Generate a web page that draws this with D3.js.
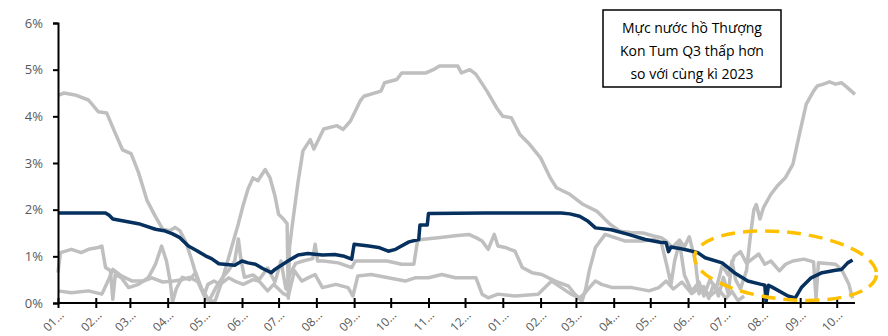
<!DOCTYPE html>
<html>
<head>
<meta charset="utf-8">
<script src="https://cdn.jsdelivr.net/npm/d3@7"></script>
<style>
  html, body { margin: 0; padding: 0; background: #fff; }
  svg { display: block; }
</style>
</head>
<body>
<svg id="chart" width="888" height="336"></svg>
<script>
// Daily series, stored as [days since 2023-01-01, percent]
const startDate = new Date(2023, 0, 1);
const endDay = 654;

const seriesNavy = [
  [0,1.93],[39,1.93],[42,1.88],[45,1.80],[55,1.75],[66,1.70],[80,1.58],[87,1.55],[94,1.48],[100,1.40],
  [107,1.22],[114,1.12],[121,1.01],[126,0.95],[132,0.84],[145,0.81],[151,0.90],[156,0.86],[162,0.83],[168,0.74],
  [175,0.65],[178,0.72],[181,0.77],[190,0.92],[197,1.03],[205,1.06],[217,1.03],[227,1.04],[235,1.00],[241,0.94],
  [243,1.26],[255,1.22],[263,1.19],[271,1.11],[277,1.15],[288,1.31],[296,1.36],[297,1.67],[303,1.67],[304,1.92],
  [350,1.93],[413,1.93],[420,1.91],[428,1.86],[435,1.75],[441,1.61],[454,1.57],[468,1.47],[482,1.36],[494,1.30],
  [499,1.29],[501,1.10],[503,1.20],[510,1.17],[517,1.13],[525,1.08],[531,0.97],[545,0.86],[555,0.65],[566,0.47],
  [577,0.40],[580,0.38],[581,0.02],[583,0.38],[586,0.34],[599,0.15],[605,0.11],[610,0.33],[618,0.54],[627,0.65],
  [638,0.70],[643,0.72],[648,0.86],[652,0.92]
];

const seriesGrayA = [
  [0,4.45],[5,4.50],[15,4.45],[25,4.35],[33,4.10],[40,4.07],[46,3.70],[53,3.28],[60,3.20],[66,2.80],
  [73,2.20],[80,1.85],[86,1.58],[92,1.55],[96,1.62],[100,1.55],[105,1.30],[110,0.90],[115,0.45],[120,0.15],
  [124,0.03],[129,0.05],[133,0.35],[137,0.70],[142,1.15],[148,1.70],[152,2.10],[156,2.45],[160,2.68],[164,2.62],
  [170,2.86],[174,2.68],[178,2.30],[181,1.90],[185,1.80],[188,1.70],[189,0.10],[190,1.20],[192,1.62],[197,2.60],
  [201,3.26],[207,3.50],[210,3.30],[218,3.73],[229,3.80],[234,3.72],[240,3.90],[248,4.33],[251,4.43],[265,4.54],
  [268,4.72],[278,4.79],[282,4.93],[302,4.93],[308,5.00],[313,5.08],[328,5.08],[331,4.93],[338,5.00],[343,4.90],
  [352,4.54],[360,4.18],[365,4.00],[372,3.97],[379,3.61],[387,3.40],[396,3.11],[404,2.68],[409,2.47],[420,2.33],
  [431,2.11],[442,1.97],[453,1.69],[461,1.54],[470,1.51],[480,1.50],[488,1.44],[495,1.40],[499,1.33],[504,1.19],
  [510,1.35],[514,1.20],[518,1.42],[523,0.90],[526,0.20],[530,0.35],[534,0.10],[538,0.40],[542,0.15],[546,0.55],
  [550,0.20],[553,0.90],[556,0.50],[560,0.30],[565,0.70],[568,1.40],[571,2.00],[573,2.11],[576,1.80],[579,2.05],
  [585,2.33],[590,2.50],[597,2.69],[603,2.97],[609,3.69],[614,4.26],[620,4.54],[623,4.65],[628,4.69],[633,4.74],
  [638,4.69],[643,4.72],[648,4.61],[654,4.47]
];

const seriesGrayB = [
  [0,0.65],[2,1.08],[11,1.15],[19,1.08],[25,1.15],[33,1.19],[36,1.22],[39,0.76],[43,0.69],[45,0.08],
  [47,0.61],[52,0.54],[58,0.33],[66,0.40],[74,0.54],[80,0.83],[85,1.22],[89,0.90],[92,0.47],[94,0.02],
  [97,0.30],[102,0.55],[108,0.50],[113,0.65],[118,0.30],[124,0.05],[130,0.35],[135,0.55],[140,0.70],[145,0.90],
  [148,1.37],[150,0.95],[153,0.55],[160,0.60],[165,0.50],[172,0.75],[178,0.45],[183,0.90],[187,0.30],[190,0.60],
  [195,0.85],[201,0.90],[209,0.95],[211,1.26],[213,0.90],[218,0.90],[230,0.86],[241,0.76],[244,0.90],[257,0.90],
  [270,0.90],[282,0.83],[292,0.83],[295,1.33],[298,1.36],[312,1.40],[326,1.44],[337,1.47],[343,1.40],[348,1.33],
  [353,1.15],[358,1.47],[361,1.22],[367,1.19],[375,1.11],[381,0.76],[389,0.65],[397,0.61],[408,0.47],[419,0.36],
  [424,0.19],[430,0.04],[433,0.30],[436,0.70],[441,1.19],[449,1.47],[457,1.40],[465,1.33],[479,1.33],[490,1.36],
  [495,1.30],[500,0.76],[503,0.40],[506,0.90],[510,1.30],[514,0.60],[520,0.25],[526,0.45],[530,0.15],[535,0.50],
  [540,0.30],[545,0.80],[550,0.60],[555,1.00],[560,1.10],[565,0.85],[570,0.95],[575,1.05],[580,0.83],[585,0.90],
  [592,0.69],[597,0.83],[603,0.90],[612,0.94],[620,0.88],[622,0.10],[624,0.86],[638,0.83],[643,0.72],[649,0.40],
  [652,0.10]
];

const seriesGrayC = [
  [0,0.26],[11,0.22],[25,0.26],[36,0.19],[41,0.47],[45,0.72],[52,0.58],[61,0.47],[70,0.47],[77,0.54],
  [86,0.45],[95,0.47],[102,0.50],[108,0.55],[115,0.45],[120,0.18],[123,0.40],[128,0.47],[133,0.40],[140,0.54],
  [145,0.47],[152,0.40],[160,0.50],[165,0.47],[172,0.26],[177,0.40],[185,0.20],[189,0.15],[194,0.69],[200,0.47],
  [206,0.55],[211,0.61],[217,0.33],[228,0.40],[238,0.33],[242,0.15],[246,0.58],[257,0.61],[271,0.54],[285,0.47],
  [293,0.54],[304,0.54],[315,0.61],[326,0.54],[343,0.54],[348,0.19],[353,0.11],[361,0.19],[375,0.15],[394,0.19],
  [405,0.47],[413,0.33],[421,0.19],[428,0.11],[432,0.20],[436,0.33],[441,0.47],[446,0.40],[455,0.33],[471,0.33],
  [485,0.26],[493,0.33],[499,0.47],[505,0.30],[512,0.45],[520,0.20],[528,0.35],[535,0.15],[542,0.30],[548,0.10],
  [553,0.25],[558,0.05],[563,0.15]
];

const yTicks = [0, 1, 2, 3, 4, 5, 6];
const xTickLabels = ["01…","02…","03…","04…","05…","06…","07…","08…","09…","10…","11…","12…",
                     "01…","02…","03…","04…","05…","06…","07…","08…","09…","10…"];
const noteLines = ["Mực nước hồ Thượng", "Kon Tum Q3 thấp hơn", "so với cùng kì 2023"];
// Highlighted window: centre day/value and half-extents
const highlight = { day: 597, value: 0.80, halfDays: 75, halfValue: 0.72, tilt: 6 };

const svg = d3.select("#chart");
const dayToDate = d => d3.timeDay.offset(startDate, d);

const x = d3.scaleTime()
  .domain([startDate, dayToDate(endDay)])
  .range([58, 855]);
const y = d3.scaleLinear().domain([0, 6]).range([303, 23]);

const line = d3.line()
  .x(d => x(dayToDate(d[0])))
  .y(d => y(d[1]));

// gray comparison series
const grayColor = "#BFBFBF";
[seriesGrayA, seriesGrayB, seriesGrayC].forEach(s => {
  svg.append("path")
    .datum(s)
    .attr("d", line)
    .attr("fill", "none")
    .attr("stroke", grayColor)
    .attr("stroke-width", 3.5)
    .attr("stroke-linejoin", "round");
});

// main series
svg.append("path")
  .datum(seriesNavy)
  .attr("d", line)
  .attr("fill", "none")
  .attr("stroke", "#06315F")
  .attr("stroke-width", 3.5)
  .attr("stroke-linejoin", "round");

// Y axis
const yAxis = svg.append("g")
  .attr("transform", `translate(${x.range()[0]},0)`)
  .call(d3.axisLeft(y).tickValues(yTicks).tickSize(5).tickPadding(10).tickFormat(d => d + "%"));
yAxis.select(".domain").attr("stroke", "#000").attr("stroke-width", 2);
yAxis.selectAll(".tick line").attr("stroke", "#000").attr("stroke-width", 2);
yAxis.selectAll(".tick text")
  .attr("fill", "#595959")
  .style("font-family", "'Open Sans', sans-serif")
  .style("font-size", "13px");

// X axis with monthly ticks
const monthTicks = d3.timeMonth.range(startDate, dayToDate(endDay));
const xAxis = svg.append("g")
  .attr("transform", `translate(0,${y(0)})`)
  .call(d3.axisBottom(x).tickValues(monthTicks).tickSize(5).tickFormat((d, i) => xTickLabels[i]));
xAxis.select(".domain").attr("stroke", "#000").attr("stroke-width", 2).attr("d", `M${x.range()[0]},0H${x.range()[1]}`);
xAxis.selectAll(".tick line").attr("stroke", "#000").attr("stroke-width", 2).attr("y1", -5).attr("y2", 5);
xAxis.selectAll(".tick text")
  .attr("fill", "#595959")
  .style("font-family", "'Open Sans', sans-serif")
  .style("font-size", "12px")
  .attr("text-anchor", "end")
  .attr("dy", null)
  .attr("y", 0)
  .attr("transform", "translate(6,13) rotate(-45)");

// Dashed highlight ellipse
const cx = x(dayToDate(highlight.day));
const cy = y(highlight.value);
const rx = x(dayToDate(highlight.day + highlight.halfDays)) - cx;
const ry = y(0) - y(highlight.halfValue);
svg.append("ellipse")
  .attr("cx", cx).attr("cy", cy)
  .attr("rx", rx).attr("ry", ry)
  .attr("transform", `rotate(${highlight.tilt},${cx},${cy})`)
  .attr("fill", "none")
  .attr("stroke", "#FFC000")
  .attr("stroke-width", 3.5)
  .attr("stroke-dasharray", "14,8");

// Note box
const note = svg.append("g").attr("transform", "translate(603,10)");
note.append("rect")
  .attr("width", 178).attr("height", 77)
  .attr("fill", "#fff")
  .attr("stroke", "#000")
  .attr("stroke-width", 1.5);
note.selectAll("text")
  .data(noteLines)
  .join("text")
  .attr("x", 89)
  .attr("y", (d, i) => 23 + i * 23)
  .attr("text-anchor", "middle")
  .attr("fill", "#000")
  .style("font-family", "'Open Sans', sans-serif")
  .style("font-size", "14px")
  .text(d => d);
</script>
</body>
</html>
